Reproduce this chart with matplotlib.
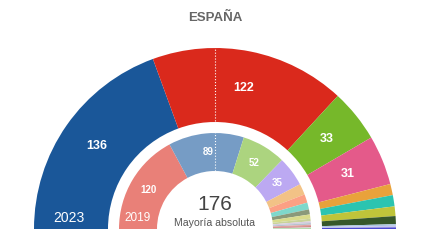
import numpy as np
import matplotlib.pyplot as plt

plt.rcParams['font.family'] = ['Liberation Sans', 'DejaVu Sans']

# 2023 results (outer ring)
seats_2023 = [136, 122, 33, 31, 7, 7, 6, 5, 1, 1, 1]
colors_2023 = ['#1a5799', '#da291c', '#76b82a', '#e45a8a', '#e9a23b', '#2bc4b0',
               '#bfc43a', '#36572a', '#a9c6e0', '#c6c6ee', '#4a4ad0']
labels_2023 = ['136', '122', '33', '31', '', '', '', '', '', '', '']

# 2019 results (inner ring)
seats_2019 = [120, 89, 52, 35, 13, 10, 8, 6, 5, 3, 2, 2, 2, 1, 1, 1]
colors_2019 = ['#e98078', '#769cc5', '#acd47f', '#bca9f2', '#f2c286', '#fca084',
               '#7fd8cb', '#8a9a7a', '#d8dc8c', '#c9d39a', '#d6cde0', '#b7c3cf',
               '#e2a0a0', '#b84a4a', '#d8d8d8', '#a8d8a0']
labels_2019 = ['120', '89', '52', '35'] + [''] * 12

total = 350
majority = 176


def ring(ax, seats, colors, labels, r_out, r_in, fsize):
    wedges, _ = ax.pie(seats + [sum(seats)], colors=colors + ['none'],
                       radius=r_out, startangle=180, counterclock=False,
                       wedgeprops=dict(width=r_out - r_in, linewidth=0))
    r_mid = (r_out + r_in) / 2
    for w, lab in zip(wedges, labels):
        if not lab:
            continue
        a = np.deg2rad((w.theta1 + w.theta2) / 2)
        ax.text(r_mid * np.cos(a), r_mid * np.sin(a), lab, color='white',
                fontsize=fsize, fontweight='bold', ha='center', va='center')


fig = plt.figure(figsize=(4.32, 2.43), dpi=100)
ax = fig.add_axes([0, 0, 1, 1])

ring(ax, seats_2023, colors_2023, labels_2023, 181, 107, 9)
ring(ax, seats_2019, colors_2019, labels_2019, 96, 58, 7)

ax.plot([0, 0], [58, 181], color='white', linestyle=':', linewidth=0.8)

ax.text(-146, 11, '2023', color='white', fontsize=10, ha='center', va='center')
ax.text(-77, 11, '2019', color='white', fontsize=8.5, ha='center', va='center')
ax.text(0, 25, str(majority), color='#444444', fontsize=15, ha='center', va='center')
ax.text(0, 6, 'Mayoría absoluta', color='#555555', fontsize=7.6, ha='center', va='center')
ax.text(0, 211, 'ESPAÑA', color='#666666', fontsize=9.5, fontweight='bold',
        ha='center', va='center')

ax.set_xlim(-215, 217)
ax.set_ylim(-14, 229)
ax.set_aspect('equal')
ax.axis('off')

fig.savefig('out.png', dpi=100)
